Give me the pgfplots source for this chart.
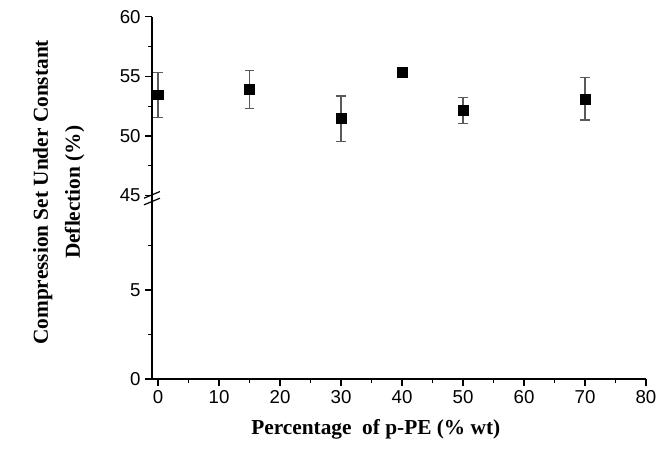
\documentclass[border=0pt]{standalone}
\usepackage{pgfplots}
\pgfplotsset{compat=1.18}
\usepackage{fontspec}
\setmainfont{Liberation Serif}
\setsansfont{Liberation Sans}

\pgfplotstableread{
x   y      e
0   53.45  1.90
15  53.90  1.60
30  51.45  1.90
40  55.35  0.20
50  52.15  1.10
70  53.10  1.77
}\cset

\pgfplotsset{
  brk/.style={
    scale only axis,
    width=370.5pt,
    xmin=-1, xmax=80,
    axis y line*=left,
    axis line style={-, line width=1.1pt},
    every outer x axis line/.append style={-},
    every outer y axis line/.append style={-},
    every inner x axis line/.append style={-},
    every inner y axis line/.append style={-},
    tick style={black, line width=0.9pt},
    major tick length=5pt,
    minor tick length=3pt,
    tick align=outside,
    /pgf/number format/assume math mode=true,
    ticklabel style={font=\sffamily\fontsize{14}{16}\selectfont},
    clip=false,
  }
}

\begin{document}
\begin{tikzpicture}
% lower part, 0 to 10
\begin{axis}[brk,
    at={(0pt,0pt)},
    height=137.6pt,
    ymin=0, ymax=10.31,
    axis x line*=bottom,
    xtick pos=bottom,
    ytick pos=left,
    xtick={0,10,...,80},
    minor x tick num=1,
    ytick={0,5},
    minor ytick={2.5,7.5},
    xlabel={Percentage\ \ of p-PE (\% wt)},
    xlabel style={font=\bfseries\fontsize{16}{19}\selectfont,
      at={(ticklabel cs:0.453)}, anchor=near ticklabel, yshift=-5pt},
  ]
\end{axis}
% upper part, 45 to 60
\begin{axis}[brk,
    at={(0pt,137.6pt)},
    height=134.1pt,
    ymin=45, ymax=60,
    axis x line=none,
    ytick pos=left,
    ytick={45,50,55,60},
    minor y tick num=1,
  ]
  \addplot[only marks, mark=square*, mark size=3.7pt, black,
    error bars/.cd, y dir=both, y explicit,
    error bar style={black!65, line width=0.9pt},
    error mark options={rotate=90, mark size=3.6pt, black!65, line width=0.9pt}]
    table[x=x, y=y, y error=e] {\cset};
\end{axis}
% axis break marks
\draw[line width=0.9pt] (-6pt,135.6pt) -- (6pt,140.6pt);
\draw[line width=0.9pt] (-6pt,130.6pt) -- (6pt,135.6pt);
% y label
\node[rotate=90, align=center, font=\bfseries\fontsize{16}{24}\selectfont]
  at (-70pt,140pt) {Compression Set Under Constant\\Deflection (\%)};
\path (-114pt,-54pt) rectangle (381.75pt,284.25pt);
\end{tikzpicture}
\end{document}
